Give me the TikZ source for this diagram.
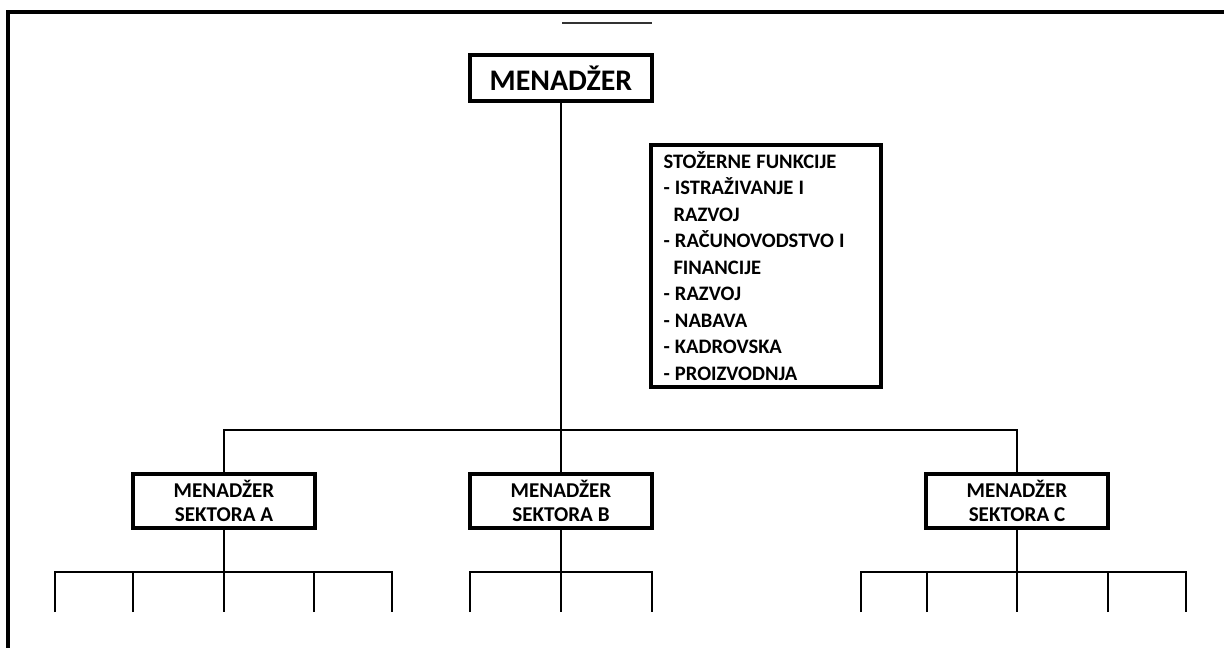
\documentclass[tikz,border=0pt]{standalone}
\usepackage{fontspec}
\setmainfont{Carlito}
\usepackage{tikz}
\usetikzlibrary{calc}
\tikzset{every scope/.style={line width=1.15pt}}
\tikzset{box/.style={draw,line width=1.75pt,inner sep=0pt,align=center,font=\bfseries}}

\begin{document}
\begin{tikzpicture}[x=0.02cm,y=-0.02cm]
      \useasboundingbox (0,0) rectangle (1224,648);
      % okvir
      \draw[line width=1.75pt] (8,660) -- (8,12) -- (1240,12);
      \draw[line width=1.1pt,black!80] (562,23) -- (652,23);

      \node[box,minimum width=3.64cm,minimum height=0.92cm,font=\bfseries\fontsize{17pt}{19pt}\selectfont] (M0) at (561,78) {MENADŽER};
      \node[box,minimum width=4.6cm,minimum height=4.84cm,text width=4.1cm,align=left,
            font=\bfseries\fontsize{11.7pt}{15.1pt}\selectfont] (S0) at (766,266)
            {\spaceskip=0.25em\relax STOŽERNE FUNKCIJE\\
             - ISTRAŽIVANJE I\\
             \hspace*{0.2cm}RAZVOJ\\
             - RAČUNOVODSTVO I\\
             \hspace*{0.2cm}FINANCIJE\\
             - RAZVOJ\\
             - NABAVA\\
             - KADROVSKA\\
             - PROIZVODNJA};

      \node[box,minimum width=3.64cm,minimum height=1.08cm,font=\bfseries\fontsize{12pt}{13.6pt}\selectfont] (MA) at (224,501) {MENADŽER\\SEKTORA A};
      \node[box,minimum width=3.64cm,minimum height=1.08cm,font=\bfseries\fontsize{12pt}{13.6pt}\selectfont] (MB) at (561,501) {MENADŽER\\SEKTORA B};
      \node[box,minimum width=3.64cm,minimum height=1.08cm,font=\bfseries\fontsize{12pt}{13.6pt}\selectfont] (MC) at (1017,501) {MENADŽER\\SEKTORA C};

      \coordinate (J0) at (561,430);
      \draw (M0) -- (J0);
      \draw (MA) |- (J0) -| (MC);
      \draw (J0) -- (MB);

      % sektor A
      \coordinate (JA) at (224,572);
      \coordinate (A1) at (55,612);
      \coordinate (A2) at (133,612);
      \coordinate (A3) at (224,612);
      \coordinate (A4) at (314,612);
      \coordinate (A5) at (392,612);
      \draw (MA) -- (JA) -- (A3);
      \draw (A1) |- (JA) -| (A5);
      \draw (A2) -- (A2 |- JA);
      \draw (A4) -- (A4 |- JA);

      % sektor B
      \coordinate (JB) at (561,572);
      \coordinate (B1) at (470,612);
      \coordinate (B2) at (561,612);
      \coordinate (B3) at (652,612);
      \draw (MB) -- (JB) -- (B2);
      \draw (B1) |- (JB) -| (B3);

      % sektor C
      \coordinate (JC) at (1017,572);
      \coordinate (C1) at (861,612);
      \coordinate (C2) at (927,612);
      \coordinate (C3) at (1017,612);
      \coordinate (C4) at (1108,612);
      \coordinate (C5) at (1186,612);
      \draw (MC) -- (JC) -- (C3);
      \draw (C1) |- (JC) -| (C5);
      \draw (C2) -- (C2 |- JC);
      \draw (C4) -- (C4 |- JC);
\end{tikzpicture}
\end{document}
